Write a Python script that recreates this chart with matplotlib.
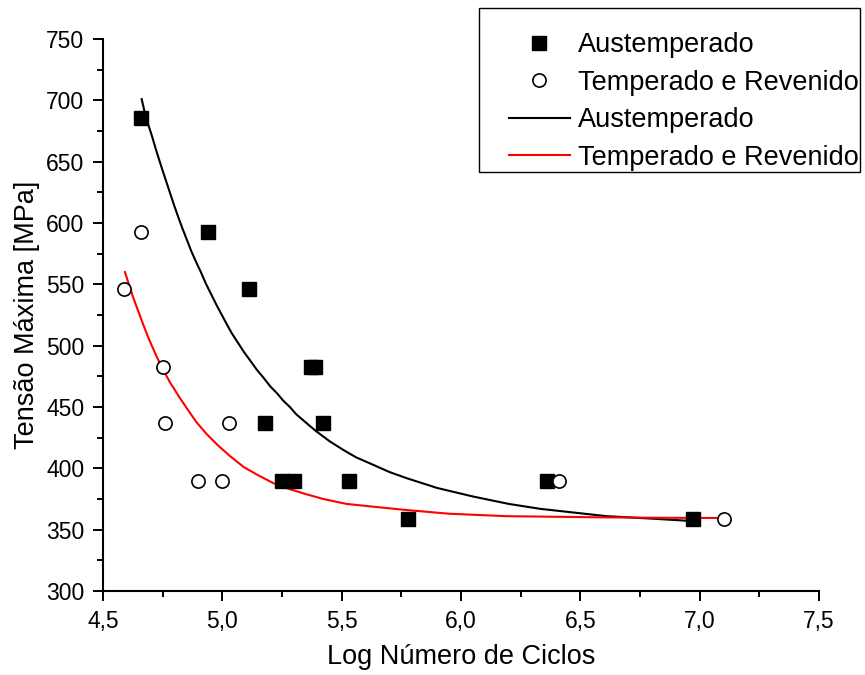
import matplotlib
matplotlib.use("Agg")
import matplotlib.pyplot as plt
from matplotlib.patches import Rectangle
from matplotlib.ticker import MultipleLocator, FuncFormatter

plt.rcParams['font.family'] = ['Liberation Sans', 'DejaVu Sans']

# pontos experimentais
aust_x = [4.66, 4.94, 5.11, 5.37, 5.39, 5.18, 5.42, 5.25, 5.30, 5.53, 5.78, 6.36, 6.97]
aust_y = [686, 593, 546, 483, 483, 437, 437, 390, 390, 390, 359, 390, 359]
tr_x = [4.66, 4.59, 4.75, 4.76, 5.03, 4.90, 5.00, 6.41, 7.10]
tr_y = [593, 546, 483, 437, 437, 390, 390, 390, 359]

# curvas ajustadas
fit_aust_x = [4.662, 4.675, 4.690, 4.705, 4.720, 4.733, 4.746, 4.763, 4.780, 4.797,
              4.815, 4.832, 4.850, 4.870, 4.893, 4.910, 4.930, 4.953, 4.976, 4.998,
              5.020, 5.040, 5.060, 5.090, 5.120, 5.146, 5.172, 5.200, 5.230, 5.256,
              5.283, 5.310, 5.340, 5.370, 5.395, 5.450, 5.507, 5.560, 5.619, 5.700,
              5.772, 5.900, 6.051, 6.200, 6.331, 6.470, 6.610, 6.800, 6.970]
fit_aust_y = [701, 690, 680, 671, 661, 653, 645, 635, 625, 615,
              605, 596, 587, 577, 567, 560, 551, 542, 533, 525,
              517, 510, 504, 495, 487, 480, 474, 467, 461, 455,
              450, 444, 439, 434, 430, 422, 415, 409, 404, 397,
              392, 384, 377, 371, 367, 364, 361, 359, 357]
fit_tr_x = [4.592, 4.610, 4.627, 4.648, 4.669, 4.685, 4.700, 4.725, 4.750, 4.781,
            4.820, 4.851, 4.890, 4.934, 4.980, 5.032, 5.090, 5.144, 5.213, 5.283,
            5.350, 5.423, 5.520, 5.619, 5.772, 5.950, 6.191, 6.400, 6.610, 6.850, 7.085]
fit_tr_y = [560, 549, 539, 528, 517, 509, 502, 491, 481, 470,
            458, 449, 438, 428, 419, 410, 401, 395, 388, 383,
            379, 375, 371, 369, 366, 363, 361, 360.5, 360, 359.7, 359.5]

fig = plt.figure(figsize=(8.65, 6.75), dpi=100)
ax = fig.add_axes([103/865, 1 - 591/675, 716/865, 552/675])

p1, = ax.plot(aust_x, aust_y, 's', color='black', ms=9.5, ls='none', zorder=3)
p2, = ax.plot(tr_x, tr_y, 'o', mfc='white', mec='black', mew=1.2, ms=9.5, ls='none', zorder=3)
l1, = ax.plot(fit_aust_x, fit_aust_y, color='black', lw=1.5)
l2, = ax.plot(fit_tr_x, fit_tr_y, color='red', lw=1.5)

ax.set_xlim(4.5, 7.5)
ax.set_ylim(300, 750)
ax.xaxis.set_major_locator(MultipleLocator(0.5))
ax.xaxis.set_minor_locator(MultipleLocator(0.25))
ax.yaxis.set_major_locator(MultipleLocator(50))
ax.yaxis.set_minor_locator(MultipleLocator(25))
ax.xaxis.set_major_formatter(FuncFormatter(lambda v, p: ('%.1f' % v).replace('.', ',')))

for s in ['top', 'right']:
    ax.spines[s].set_visible(False)
for s in ['left', 'bottom']:
    ax.spines[s].set_linewidth(1.5)
ax.tick_params(which='major', direction='out', length=7.5, width=1.4, labelsize=16.5, pad=6)
ax.tick_params(which='minor', direction='out', length=4, width=1.4)

ax.set_xlabel('Log Número de Ciclos', fontsize=19.5, labelpad=8)
ax.set_ylabel('Tensão Máxima [MPa]', fontsize=19.5, labelpad=4)

leg = fig.legend([p1, p2, l1, l2],
                 ['Austemperado', 'Temperado e Revenido', 'Austemperado', 'Temperado e Revenido'],
                 loc='upper left', bbox_to_anchor=(509/865, 1 - 32/675),
                 frameon=False, fontsize=19.5, numpoints=1, handlelength=2.25,
                 handletextpad=0.3, labelspacing=0.43, borderpad=0, borderaxespad=0)
fig.add_artist(Rectangle((479/865, 1 - 172/675), 381/865, 164/675,
                         transform=fig.transFigure, fill=False, ec='black', lw=1))

fig.savefig('out.png', dpi=100)
